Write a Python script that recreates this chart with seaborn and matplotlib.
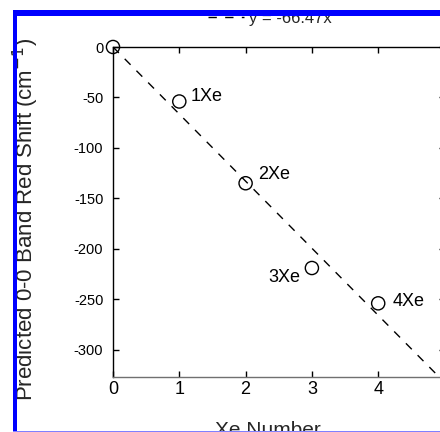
import matplotlib
matplotlib.use("Agg")
import matplotlib.pyplot as plt
from matplotlib.patches import Rectangle
import seaborn as sns
import pandas as pd

xe_number = [0, 1, 2, 3, 4]
red_shift = [0, -54, -135, -219, -254]
point_labels = ["", "1Xe", "2Xe", "3Xe", "4Xe"]
fit_slope = -66.47
fit_x = [0, 5.5]
x_ticks = [0, 1, 2, 3, 4]
y_ticks = [0, -50, -100, -150, -200, -250, -300]

sns.set_theme(style="ticks")
plt.rcParams['font.family'] = ['Liberation Sans', 'DejaVu Sans']

W, H = 440, 432
fig = plt.figure(figsize=(W / 100, H / 100), dpi=100)
fig.patch.set_facecolor("white")
ax = fig.add_axes([113 / W, 1 - 377 / H, (444.5 - 113) / W, (377 - 47) / H])
ax.set_facecolor("white")

df_pts = pd.DataFrame({"x": xe_number, "y": red_shift})
df_fit = pd.DataFrame({"x": fit_x, "y": [fit_slope * v for v in fit_x]})

sns.lineplot(data=df_fit, x="x", y="y", ax=ax, color="black", linewidth=1.0,
             linestyle=(0, (6, 6)), label="y = -66.47x")
sns.scatterplot(data=df_pts, x="x", y="y", ax=ax, s=90, marker="o",
                facecolor="none", edgecolor="black", linewidth=1.0,
                clip_on=False, zorder=5, legend=False)

offsets = {"1Xe": (11, 0, "left"), "2Xe": (13, 4, "left"),
           "3Xe": (-12, -14, "right"), "4Xe": (14, -3, "left")}
for xv, yv, lab in zip(xe_number, red_shift, point_labels):
    if not lab:
        continue
    dx, dy, ha = offsets[lab]
    ax.annotate(lab, (xv, yv), xytext=(dx, dy), textcoords="offset pixels",
                ha=ha, va="baseline", fontsize=13, color="black")

ax.set_xlim(0, 5)
ax.set_ylim(-327, 0)
ax.set_xticks(x_ticks)
ax.set_xticklabels([str(t) for t in x_ticks])
ax.set_yticks(y_ticks)
ax.set_yticklabels([str(t) for t in y_ticks])
ax.tick_params(direction="in", length=4, width=1, colors="black",
               top=True, right=True)
ax.tick_params(axis="x", labelsize=13, pad=3)
ax.tick_params(axis="y", labelsize=10.5, pad=7)

for s in ax.spines.values():
    s.set_visible(True)
    s.set_color("black")
    s.set_linewidth(1.0)
ax.spines["bottom"].set_color("#707070")

ax.set_xlabel("")
ax.set_ylabel("")
fig.text(268 / W, 1 - 436 / H, "Xe Number", fontsize=15, ha="center",
         va="baseline")
fig.text(33 / W, 1 - 219 / H, "Predicted 0-0 Band Red Shift (cm$^{-1}$)",
         fontsize=16, rotation=90, rotation_mode="anchor",
         ha="center", va="baseline")

leg = ax.legend(loc="center", bbox_to_anchor=(270 / W, 1 - 18 / H),
                bbox_transform=fig.transFigure, frameon=False, fontsize=12,
                handlelength=2.2, handletextpad=0.3)

# blue selection frame
fig.add_artist(Rectangle((13 / W, 0), 4 / W, 1 - 10 / H, transform=fig.transFigure,
                         facecolor="#0000ff", edgecolor="none", zorder=10))
fig.add_artist(Rectangle((13 / W, 1 - 16 / H), 1, 6 / H, transform=fig.transFigure,
                         facecolor="#0000ff", edgecolor="none", zorder=10))
fig.add_artist(Rectangle((13 / W, 0), 1, 1.2 / H, transform=fig.transFigure,
                         facecolor="#8080ff", edgecolor="none", zorder=10))

fig.savefig("out.png", dpi=100)
